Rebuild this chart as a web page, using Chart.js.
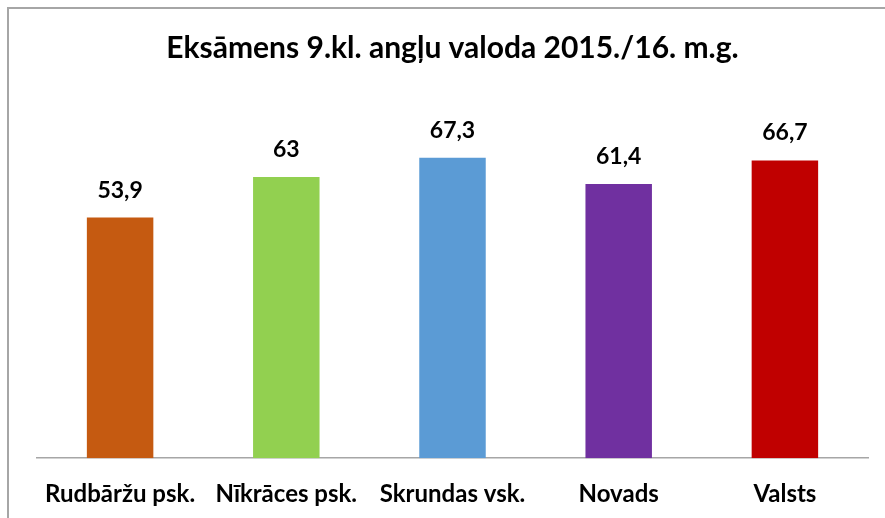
<!DOCTYPE html>
<html>
<head>
<meta charset="utf-8">
<script src="https://cdn.jsdelivr.net/npm/chart.js@4"></script>
<style>
    body { margin: 0; background: #ffffff; }
    #frame {
        position: absolute; left: 7px; top: 7px; width: 900px; height: 540px;
        border-left: 2px solid #a6a6a6; border-top: 2px solid #a6a6a6;
    }
    #wrap { position: absolute; left: 0; top: 0; width: 885px; height: 518px; }
</style>
</head>
<body>
<div id="frame"></div>
<div id="wrap"><canvas id="exam-chart" width="885" height="518"></canvas></div>
<script>
// Chart data
const categories = ['Rudbāržu psk.', 'Nīkrāces psk.', 'Skrundas vsk.', 'Novads', 'Valsts'];
const scores = [53.9, 63, 67.3, 61.4, 66.7];
const barColors = ['#c55a11', '#92d050', '#5b9bd5', '#7030a0', '#c00000'];
const FONT = 'Lato, "Open Sans", sans-serif';

// Value labels above bars, comma as decimal separator
const valueLabels = {
    id: 'valueLabels',
    afterDatasetsDraw(chart) {
        const ctx = chart.ctx;
        const meta = chart.getDatasetMeta(0);
        ctx.save();
        ctx.font = 'bold 23px ' + FONT;
        ctx.fillStyle = '#000000';
        ctx.textAlign = 'center';
        ctx.textBaseline = 'alphabetic';
        meta.data.forEach((bar, i) => {
            const text = String(scores[i]).replace('.', ',');
            ctx.fillText(text, bar.x, bar.y - 20);
        });
        ctx.restore();
    }
};

new Chart(document.getElementById('exam-chart'), {
    type: 'bar',
    data: {
        labels: categories,
        datasets: [{
            data: scores,
            backgroundColor: barColors,
            barPercentage: 0.4,
            categoryPercentage: 1.0
        }]
    },
    options: {
        responsive: false,
        animation: false,
        layout: { padding: { left: 37, right: 17, top: 0, bottom: -13 } },
        plugins: {
            legend: { display: false },
            tooltip: { enabled: false },
            title: {
                display: true,
                text: 'Eksāmens 9.kl. angļu valoda 2015./16. m.g.',
                color: '#000000',
                font: { family: FONT, size: 30, weight: 'bold' },
                padding: { top: 30, bottom: 35 }
            }
        },
        scales: {
            y: { display: false, min: 0, max: 80 },
            x: {
                grid: { display: false, drawTicks: false },
                border: { display: true, color: '#a6a6a6', width: 1.5 },
                ticks: {
                    color: '#000000',
                    padding: 22,
                    font: { family: FONT, size: 24, weight: 'bold' }
                }
            }
        }
    },
    plugins: [valueLabels]
});
</script>
</body>
</html>
